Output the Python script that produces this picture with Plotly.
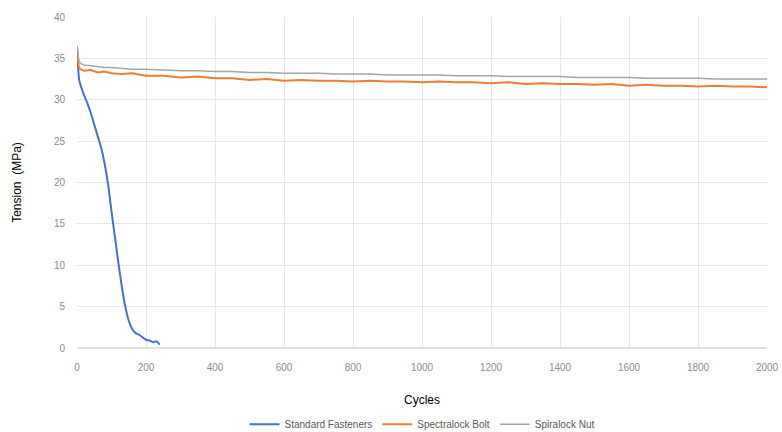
import plotly.graph_objects as go

# Standard Fasteners
std_cycles = [0, 3, 6, 10, 15, 20, 30, 40, 50, 60, 70, 80, 90, 100, 110, 120, 130, 140, 150, 160, 170, 180, 190, 200, 210, 220, 230, 240]
std_tension = [36.5, 34.0, 32.5, 31.8, 31.2, 30.6, 29.6, 28.4, 27.0, 25.6, 24.2, 22.3, 19.8, 16.5, 13.4, 10.3, 7.4, 5.0, 3.3, 2.3, 1.8, 1.6, 1.3, 1.0, 0.9, 0.7, 0.8, 0.4]

# Spectralock Bolt
bolt_cycles = [0, 5, 10, 20, 40, 60, 80, 100, 130, 160, 200, 250, 300, 350, 400, 450, 500, 550, 600, 650, 700, 750, 800, 850, 900, 950, 1000,
               1050, 1100, 1150, 1200, 1250, 1300, 1350, 1400, 1450, 1500, 1550, 1600, 1650, 1700, 1750, 1800, 1850, 1900, 1950, 2000]
bolt_tension = [36.2, 34.0, 33.7, 33.5, 33.6, 33.3, 33.4, 33.2, 33.1, 33.2, 32.9, 32.9, 32.7, 32.8, 32.6, 32.6, 32.4, 32.5, 32.3, 32.4, 32.3, 32.3, 32.2, 32.3, 32.2, 32.2, 32.1,
                32.2, 32.1, 32.1, 32.0, 32.1, 31.9, 32.0, 31.9, 31.9, 31.8, 31.9, 31.7, 31.8, 31.7, 31.7, 31.6, 31.7, 31.6, 31.6, 31.5]

# Spiralock Nut
nut_cycles = [0, 5, 10, 20, 40, 60, 80, 100, 130, 160, 200, 250, 300, 350, 400, 450, 500, 550, 600, 650, 700, 750, 800, 850, 900, 950, 1000,
              1050, 1100, 1150, 1200, 1250, 1300, 1350, 1400, 1450, 1500, 1550, 1600, 1650, 1700, 1750, 1800, 1850, 1900, 1950, 2000]
nut_tension = [36.5, 34.8, 34.4, 34.2, 34.1, 34.0, 33.9, 33.9, 33.8, 33.7, 33.7, 33.6, 33.5, 33.5, 33.4, 33.4, 33.3, 33.3, 33.2, 33.2, 33.2, 33.1, 33.1, 33.1, 33.0, 33.0, 33.0,
               33.0, 32.9, 32.9, 32.9, 32.8, 32.8, 32.8, 32.8, 32.7, 32.7, 32.7, 32.7, 32.6, 32.6, 32.6, 32.6, 32.5, 32.5, 32.5, 32.5]

x_ticks = list(range(0, 2001, 200))
y_ticks = list(range(0, 41, 5))

fig = go.Figure()
fig.add_trace(go.Scatter(x=std_cycles, y=std_tension, mode="lines", name="Standard Fasteners",
                         line=dict(color="#4472C4", width=2, shape="spline", smoothing=0.6)))
fig.add_trace(go.Scatter(x=bolt_cycles, y=bolt_tension, mode="lines", name="Spectralock Bolt",
                         line=dict(color="#ED7D31", width=2)))
fig.add_trace(go.Scatter(x=nut_cycles, y=nut_tension, mode="lines", name="Spiralock Nut",
                         line=dict(color="#A5A5A5", width=1.5)))

fig.update_layout(
    width=782, height=432,
    margin=dict(l=77, r=15, t=17, b=84, autoexpand=False),
    paper_bgcolor="white", plot_bgcolor="white",
    font=dict(family="Liberation Sans, Arial, sans-serif", size=12, color="#000"),
    showlegend=True,
    legend=dict(orientation="h", x=0.5, xanchor="center", yref="container", y=0.018, yanchor="middle",
                font=dict(size=10, color="#595959"), itemwidth=30, tracegroupgap=0),
)
fig.update_xaxes(range=[0, 2000], tickvals=x_ticks, showgrid=True, gridcolor="#e6e6e6", gridwidth=1,
                 zeroline=False, showline=False, ticks="outside", ticklen=10, tickcolor="rgba(0,0,0,0)",
                 automargin=False,
                 tickfont=dict(size=10, color="#8c8c8c"),
                 title=dict(text="Cycles", font=dict(size=12, color="#000"), standoff=23))
fig.update_yaxes(range=[0, 40], tickvals=y_ticks, showgrid=True, gridcolor="#e6e6e6", gridwidth=1,
                 zeroline=True, zerolinecolor="#e0e0e0", showline=False, ticks="outside", ticklen=9,
                 tickcolor="rgba(0,0,0,0)", automargin=False,
                 tickfont=dict(size=10, color="#8c8c8c"),
                 title=dict(text="Tension  (MPa)", font=dict(size=12, color="#000"), standoff=29))
fig.write_html("out.html", config={"displayModeBar": False},
               post_script="document.body.style.margin='0';")
